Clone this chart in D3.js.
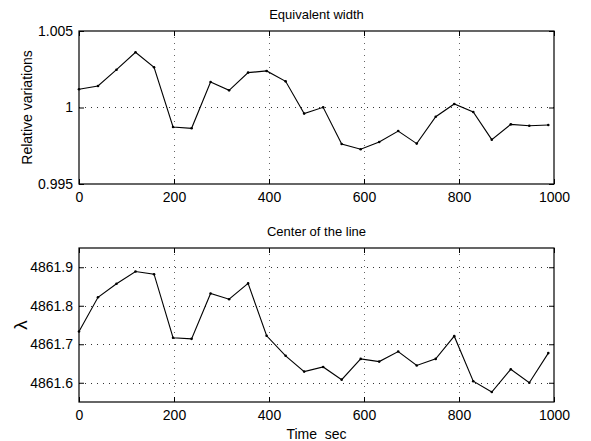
<!DOCTYPE html>
<html>
<head>
<meta charset="utf-8">
<script src="https://cdn.jsdelivr.net/npm/d3@7"></script>
<style>
  html, body { margin: 0; padding: 0; background: #fff; }
  svg { display: block; }
  text { font-family: "Liberation Sans", Arial, Helvetica, sans-serif; fill: #000; }
</style>
</head>
<body>
<svg id="chart" width="591" height="441"></svg>
<script>
// ---- data ----
const times = [0, 40, 79, 119, 158, 198, 237, 277, 316, 356, 395, 435, 474, 514, 553, 593, 632, 672, 711, 751, 790, 830, 869, 909, 948, 988];
const eqWidth = [1.00119, 1.00141, 1.00247, 1.00361, 1.00263, 0.99873, 0.99864, 1.00167, 1.00112, 1.00228, 1.00239, 1.00171, 0.99960, 1.00001, 0.99761, 0.99727, 0.99775, 0.99846, 0.99764, 0.99940, 1.00023, 0.99971, 0.99790, 0.99890, 0.99881, 0.99886];
const lineCenter = [4861.733, 4861.822, 4861.857, 4861.889, 4861.882, 4861.717, 4861.714, 4861.832, 4861.817, 4861.858, 4861.722, 4861.670, 4861.629, 4861.641, 4861.608, 4861.662, 4861.655, 4861.681, 4861.645, 4861.662, 4861.721, 4861.604, 4861.576, 4861.635, 4861.600, 4861.677];
const xTicks = [0, 200, 400, 600, 800, 1000];
const topYTicks = [0.995, 1, 1.005];
const topYLabels = ["0.995", "1", "1.005"];
const botYTicks = [4861.6, 4861.7, 4861.8, 4861.9];
const botYLabels = ["4861.6", "4861.7", "4861.8", "4861.9"];

const svg = d3.select("#chart");
const FONT = 14;

function panel(opts) {
  const { left, right, top, bottom, yDomain, yTicks, yLabels, values, title, ylabel, ylabelSize, xlabel } = opts;
  const x = d3.scaleLinear().domain([0, 1000]).range([left, right]);
  const y = d3.scaleLinear().domain(yDomain).range([bottom, top]);
  const g = svg.append("g");

  // grid
  const gridX = xTicks.filter(t => t > 0 && t < 1000);
  const gridY = yTicks.filter(t => y(t) > top + 0.5 && y(t) < bottom - 0.5);
  g.selectAll(".gx").data(gridX).join("line")
    .attr("x1", d => Math.round(x(d)) + 0.5).attr("x2", d => Math.round(x(d)) + 0.5)
    .attr("y1", top).attr("y2", bottom)
    .attr("stroke", "#666").attr("stroke-width", 1).attr("stroke-dasharray", "1,5");
  g.selectAll(".gy").data(gridY).join("line")
    .attr("x1", left).attr("x2", right)
    .attr("y1", d => Math.round(y(d)) + 0.5).attr("y2", d => Math.round(y(d)) + 0.5)
    .attr("stroke", "#333").attr("stroke-width", 1).attr("stroke-dasharray", "1,5");

  // axes (ticks inward, all four sides)
  const tl = 5;
  const axB = d3.axisBottom(x).tickValues(xTicks).tickSize(-tl).tickPadding(8).tickFormat(d3.format("d"));
  const axT = d3.axisTop(x).tickValues(xTicks).tickSize(-tl).tickFormat("");
  const axL = d3.axisLeft(y).tickValues(yTicks).tickSize(-tl).tickPadding(6).tickFormat((d, i) => yLabels[i]);
  const axR = d3.axisRight(y).tickValues(yTicks).tickSize(-tl).tickFormat("");
  [[axB, `translate(0,${bottom})`], [axT, `translate(0,${top})`], [axL, `translate(${left},0)`], [axR, `translate(${right},0)`]].forEach(([ax, tr]) => {
    const a = g.append("g").attr("transform", tr).call(ax);
    a.select(".domain").remove();
    a.selectAll("line").attr("stroke", "#000").attr("stroke-width", 1);
    a.selectAll("text").style("font-size", FONT + "px").style("font-family", "Liberation Sans, Arial, sans-serif").attr("fill", "#000");
  });

  // box
  g.append("rect").attr("x", left).attr("y", top).attr("width", right - left).attr("height", bottom - top)
    .attr("fill", "none").attr("stroke", "#000").attr("stroke-width", 1.2);

  // line
  const pts = times.map((t, i) => [t, values[i]]);
  g.append("path").datum(pts)
    .attr("d", d3.line().x(d => x(d[0])).y(d => y(d[1])))
    .attr("fill", "none").attr("stroke", "#000").attr("stroke-width", 1.1);
  g.selectAll(".pt").data(pts).join("circle")
    .attr("cx", d => x(d[0])).attr("cy", d => y(d[1])).attr("r", 1.3).attr("fill", "#000");

  // title
  g.append("text").attr("x", (left + right) / 2).attr("y", top - 12)
    .attr("text-anchor", "middle").style("font-size", "13px").text(title);
  // y label
  g.append("text")
    .attr("transform", `translate(${opts.ylabelX},${(top + bottom) / 2}) rotate(-90)`)
    .attr("text-anchor", "middle").style("font-size", ylabelSize + "px").text(ylabel);
  if (xlabel) {
    g.append("text").attr("x", (left + right) / 2).attr("y", bottom + 37)
      .attr("text-anchor", "middle").style("font-size", FONT + "px")
      .attr("xml:space", "preserve").text(xlabel);
  }
}

panel({ left: 79, right: 554, top: 31, bottom: 184, yDomain: [0.995, 1.005], yTicks: topYTicks, yLabels: topYLabels,
  values: eqWidth, title: "Equivalent width", ylabel: "Relative variations", ylabelSize: 14, ylabelX: 32 });
panel({ left: 79, right: 554, top: 248, bottom: 402, yDomain: [4861.55, 4861.95], yTicks: botYTicks, yLabels: botYLabels,
  values: lineCenter, title: "Center of the line", ylabel: "λ", ylabelSize: 19, ylabelX: 27, xlabel: "Time  sec" });
</script>
</body>
</html>
